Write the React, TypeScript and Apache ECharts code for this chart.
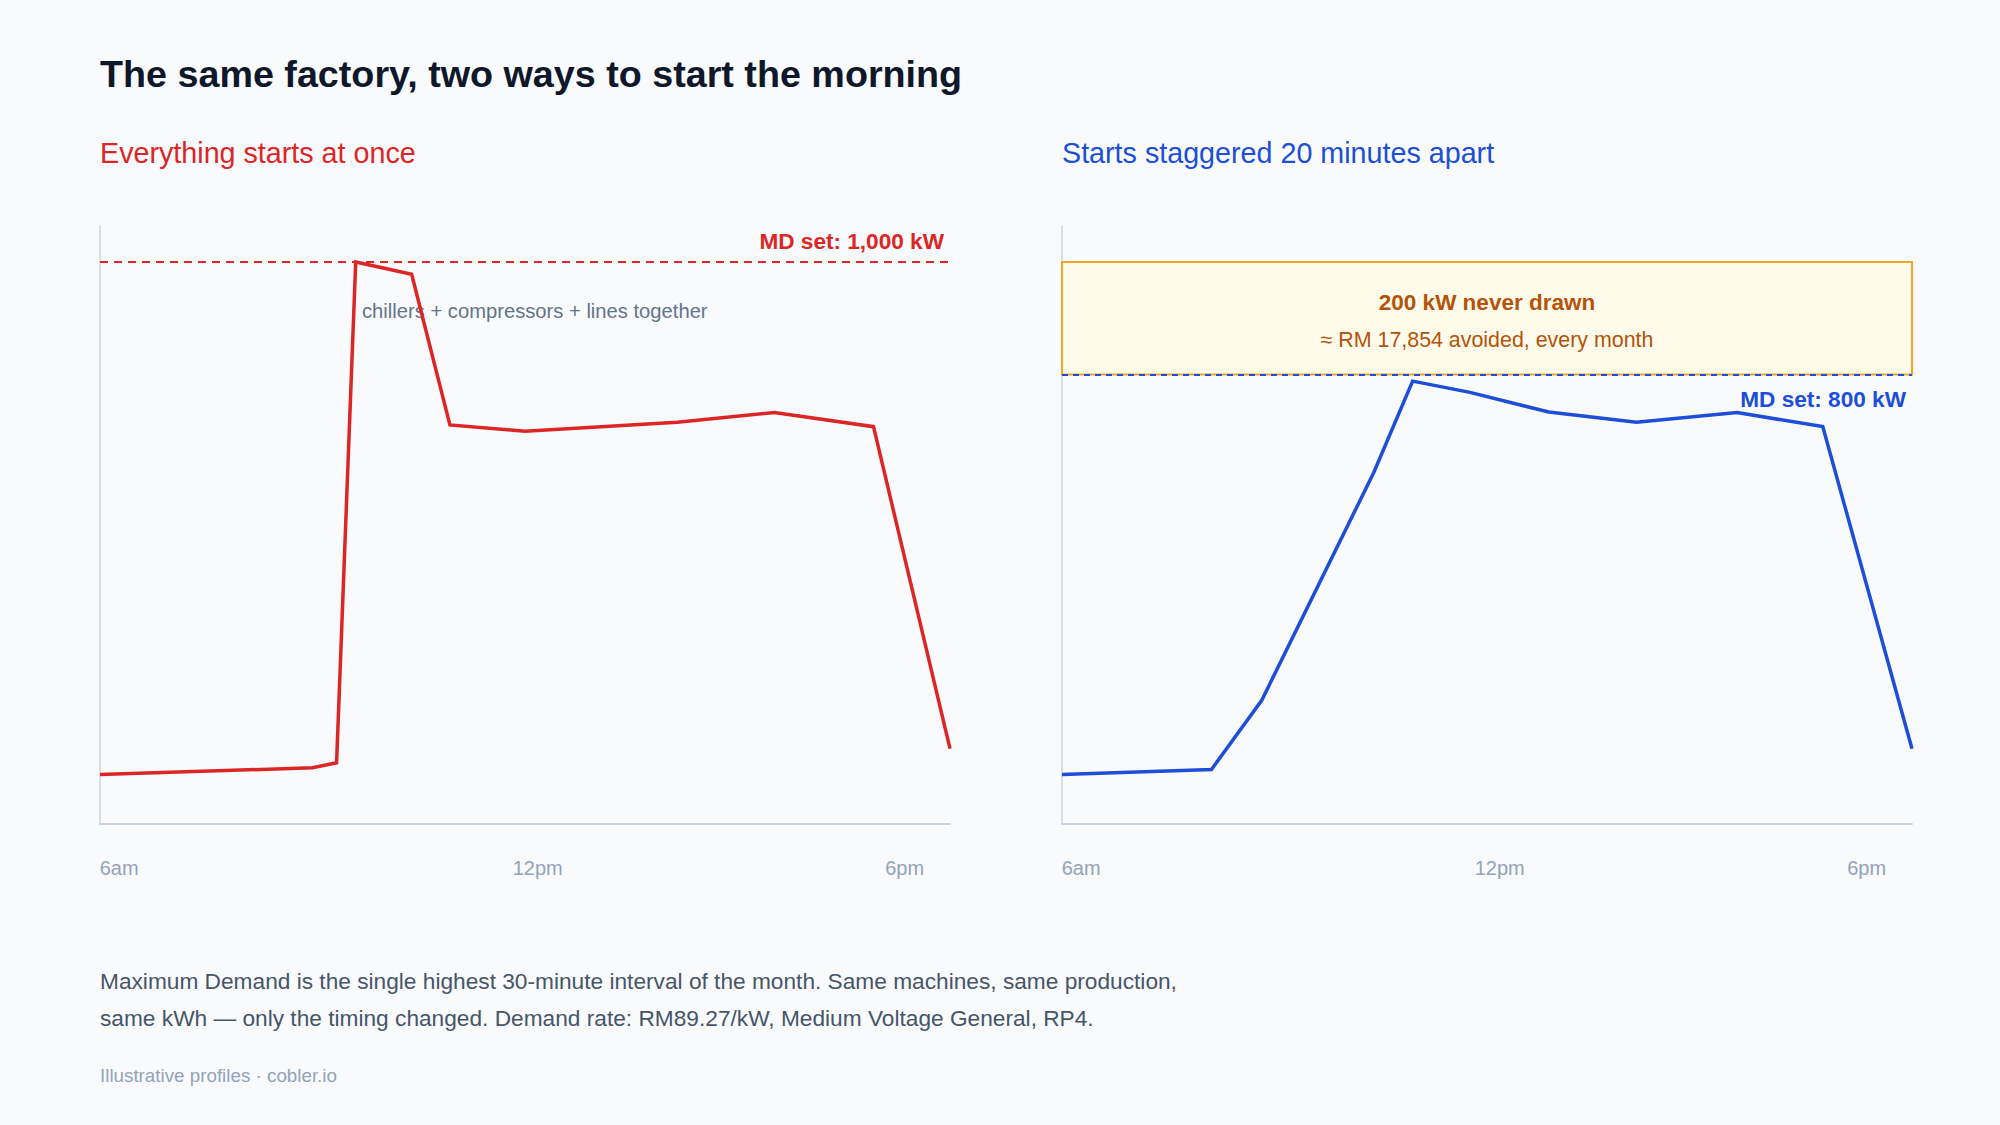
import React, { useEffect, useRef } from 'react';
import * as echarts from 'echarts';

// time axis in hours of the day, demand in kW
const tickHours = [6.27, 12.18, 17.36];
const tickLabels = ['6am', '12pm', '6pm'];

const burstHours = [6, 9.0, 9.34, 9.61, 10.4, 10.94, 12.0, 14.15, 15.52, 16.92, 18];
const burstKw = [88, 100, 109, 1000, 978, 710, 699, 715, 732, 707, 134];

const staggerHours = [6, 8.11, 8.82, 10.4, 10.95, 11.76, 12.87, 14.11, 15.53, 16.74, 18];
const staggerKw = [88, 97, 220, 625, 788, 768, 733, 715, 732, 707, 134];

const mdBurst = 1000;
const mdStagger = 800;

const FONT = '"Liberation Sans", Helvetica, Arial, sans-serif';
const RED = '#dc2626';
const BLUE = '#1d4ed8';
const AMBER = '#b45309';

const pairs = (xs: number[], ys: number[]) => xs.map((x, i) => [x, ys[i]]);

const xAxisFor = (gridIndex: number) => ({
  type: 'value',
  gridIndex,
  min: 6,
  max: 18,
  splitLine: { show: false },
  axisTick: { show: false },
  axisLine: { show: true, lineStyle: { color: '#cbd5e1', width: 2 } },
  axisLabel: {
    customValues: tickHours,
    margin: 34,
    color: '#94a3b8',
    fontSize: 20,
    fontFamily: FONT,
    formatter: (v: number) => {
      let best = 0;
      tickHours.forEach((t, i) => {
        if (Math.abs(t - v) < Math.abs(tickHours[best] - v)) best = i;
      });
      return tickLabels[best];
    },
  },
});

const yAxisFor = (gridIndex: number) => ({
  type: 'value',
  gridIndex,
  min: 0,
  max: 1064,
  splitLine: { show: false },
  axisTick: { show: false },
  axisLabel: { show: false },
  axisLine: { show: true, lineStyle: { color: '#cbd5e1', width: 1.5 } },
});

const App: React.FC = () => {
  const chartRef = useRef<HTMLDivElement>(null);

  useEffect(() => {
    if (!chartRef.current) return;
    const chart = echarts.init(chartRef.current, undefined, { renderer: 'svg' });

    const option = {
      animation: false,
      backgroundColor: '#f8fafc',
      textStyle: { fontFamily: FONT },
      grid: [
        { left: 100, top: 226, width: 850, height: 598 },
        { left: 1062, top: 226, width: 850, height: 598 },
      ],
      xAxis: [xAxisFor(0), xAxisFor(1)],
      yAxis: [yAxisFor(0), yAxisFor(1)],
      series: [
        {
          name: 'Everything starts at once',
          type: 'line',
          xAxisIndex: 0,
          yAxisIndex: 0,
          data: pairs(burstHours, burstKw),
          showSymbol: false,
          z: 3,
          lineStyle: { color: RED, width: 3.5, join: 'miter' },
          markLine: {
            silent: true,
            symbol: ['none', 'none'],
            lineStyle: { color: RED, width: 2, type: [8, 6] },
            label: {
              show: true,
              position: 'insideEndTop',
              distance: [6, 9],
              formatter: 'MD set: 1,000 kW',
              color: RED,
              fontWeight: 'bold',
              fontSize: 22.6,
              fontFamily: FONT,
            },
            data: [{ yAxis: mdBurst }],
          },
        },
        {
          name: 'Starts staggered 20 minutes apart',
          type: 'line',
          xAxisIndex: 1,
          yAxisIndex: 1,
          data: pairs(staggerHours, staggerKw),
          showSymbol: false,
          z: 3,
          lineStyle: { color: BLUE, width: 3.5, join: 'miter' },
          markArea: {
            silent: true,
            itemStyle: { color: '#fffbeb', borderColor: '#f5a524', borderWidth: 2 },
            label: {
              show: true,
              position: 'inside',
              offset: [0, 3],
              formatter: '{a|200 kW never drawn}\n{b|≈ RM 17,854 avoided, every month}',
              rich: {
                a: { color: AMBER, fontSize: 22.5, fontWeight: 'bold', lineHeight: 37, fontFamily: FONT },
                b: { color: AMBER, fontSize: 21.4, lineHeight: 37, fontFamily: FONT },
              },
            },
            data: [[{ yAxis: mdStagger }, { yAxis: mdBurst }]],
          },
          markLine: {
            silent: true,
            symbol: ['none', 'none'],
            lineStyle: { color: BLUE, width: 2, type: [6, 5] },
            label: {
              show: true,
              position: 'insideEndBottom',
              distance: [6, 14],
              formatter: 'MD set: 800 kW',
              color: BLUE,
              fontWeight: 'bold',
              fontSize: 22.6,
              fontFamily: FONT,
            },
            data: [{ yAxis: mdStagger }],
          },
        },
      ],
      graphic: [
        {
          type: 'text', left: 100, top: 55,
          style: { text: 'The same factory, two ways to start the morning', fill: '#0f172a', font: `bold 37.7px ${FONT}` },
        },
        {
          type: 'text', left: 100, top: 138,
          style: { text: 'Everything starts at once', fill: RED, font: `28.7px ${FONT}` },
        },
        {
          type: 'text', left: 1062, top: 138,
          style: { text: 'Starts staggered 20 minutes apart', fill: BLUE, font: `28.7px ${FONT}` },
        },
        {
          type: 'text', left: 362, top: 301, z: 1,
          style: { text: 'chillers + compressors + lines together', fill: '#64748b', font: `20.2px ${FONT}` },
        },
        {
          type: 'text', left: 100, top: 962,
          style: {
            text: 'Maximum Demand is the single highest 30-minute interval of the month. Same machines, same production,\nsame kWh — only the timing changed. Demand rate: RM89.27/kW, Medium Voltage General, RP4.',
            fill: '#475569',
            font: `22.7px ${FONT}`,
            lineHeight: 37,
          },
        },
        {
          type: 'text', left: 100, top: 1066,
          style: { text: 'Illustrative profiles · cobler.io', fill: '#94a3b8', font: `18.8px ${FONT}` },
        },
      ],
    };

    chart.setOption(option as any);
    return () => chart.dispose();
  }, []);

  return (
    <div
      ref={chartRef}
      style={{ position: 'absolute', left: 0, top: 0, width: '2000px', height: '1125px' }}
    />
  );
};

export default App;
